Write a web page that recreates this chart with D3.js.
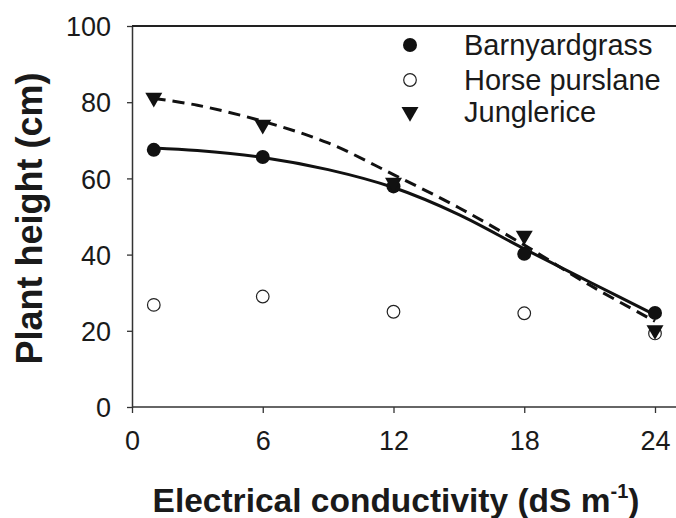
<!DOCTYPE html>
<html>
<head>
<meta charset="utf-8">
<script src="https://cdn.jsdelivr.net/npm/d3@7"></script>
<style>
  body { margin: 0; background: #fff; }
  text { font-family: "Liberation Sans", Arial, sans-serif; }
</style>
</head>
<body>
<div id="chart"></div>
<script>
// measured points
const ec = [1, 6, 12, 18, 24];
const barnyard = [67.5, 65.6, 57.9, 40.2, 24.7];
const purslane = [26.8, 29.0, 25.0, 24.6, 19.3];
const junglerice = [81.2, 74.1, 58.9, 45.0, 20.2];

// fitted curves
const fitX = [1, 3, 6, 9, 12, 15, 18, 21, 24];
const barnyardFit = [68.0, 67.3, 65.5, 62.3, 57.6, 50.5, 41.5, 32.8, 24.2];
const jungleFit = [81.0, 79.2, 75.0, 69.3, 61.0, 52.3, 42.5, 32.0, 22.5];

const xTicks = [0, 6, 12, 18, 24];
const yTicks = [0, 20, 40, 60, 80, 100];
const legendNames = ["Barnyardgrass", "Horse purslane", "Junglerice"];

const W = 676, H = 518;
const margin = { top: 26, right: 0, bottom: 111, left: 132 };
const width = W - margin.left - margin.right;
const height = H - margin.top - margin.bottom;

const svg = d3.select("#chart").append("svg")
  .attr("width", W).attr("height", H);
const g = svg.append("g").attr("transform", `translate(${margin.left},${margin.top})`);

const x = d3.scaleLinear().domain([0, 24]).range([0, 523]);
const y = d3.scaleLinear().domain([0, 100]).range([height, 0]);

// axes
const xAxis = g.append("g").attr("transform", `translate(0,${height})`)
  .call(d3.axisBottom(x).tickValues(xTicks).tickSize(6).tickPadding(14).tickSizeOuter(0));
const yAxis = g.append("g")
  .call(d3.axisLeft(y).tickValues(yTicks).tickSize(5).tickPadding(16).tickSizeOuter(0));
xAxis.select(".domain").attr("d", `M0,0H${width}`);
[xAxis, yAxis].forEach(a => {
  a.select(".domain").attr("stroke", "#333").attr("stroke-width", 1.5);
  a.selectAll(".tick line").attr("stroke", "#333").attr("stroke-width", 1.3);
  a.selectAll(".tick text").attr("fill", "#1a1a1a").style("font-size", "27px");
});
xAxis.selectAll(".tick text").attr("dy", "0.85em");
yAxis.selectAll(".tick text").attr("dy", "0.36em");

// top frame line
g.append("line").attr("x1", 0).attr("x2", width).attr("y1", 0).attr("y2", 0)
  .attr("stroke", "#222").attr("stroke-width", 2);

// axis titles
svg.append("text")
  .attr("transform", `translate(42,${margin.top + height / 2 + 2}) rotate(-90)`)
  .attr("text-anchor", "middle")
  .style("font-size", "36px").style("font-weight", "bold").attr("fill", "#1a1a1a")
  .text("Plant height (cm)");

const xt = svg.append("text")
  .attr("x", 396).attr("y", 512)
  .attr("text-anchor", "middle")
  .style("font-size", "33.5px").style("font-weight", "bold").attr("fill", "#1a1a1a");
xt.append("tspan").text("Electrical conductivity (dS m");
xt.append("tspan").attr("dy", -14).style("font-size", "20px").text("-1");
xt.append("tspan").attr("dy", 14).text(")");

// fitted curves
const line = d3.line().x(d => x(d[0])).y(d => y(d[1])).curve(d3.curveCatmullRom.alpha(0.5));
g.append("path").datum(fitX.map((v, i) => [v, jungleFit[i]]))
  .attr("d", line).attr("fill", "none").attr("stroke", "#111")
  .attr("stroke-width", 3).attr("stroke-dasharray", "12,7");
g.append("path").datum(fitX.map((v, i) => [v, barnyardFit[i]]))
  .attr("d", line).attr("fill", "none").attr("stroke", "#111")
  .attr("stroke-width", 3);

// markers
const tri = d3.symbol().type(d3.symbolTriangle).size(125);
g.selectAll(".pur").data(ec).join("circle")
  .attr("cx", d => x(d)).attr("cy", (d, i) => y(purslane[i])).attr("r", 6.3)
  .attr("fill", "#fff").attr("stroke", "#222").attr("stroke-width", 1.2);
g.selectAll(".bar").data(ec).join("circle")
  .attr("cx", d => x(d)).attr("cy", (d, i) => y(barnyard[i])).attr("r", 7)
  .attr("fill", "#111");
g.selectAll(".jun").data(ec).join("path")
  .attr("d", tri)
  .attr("transform", (d, i) => `translate(${x(d)},${y(junglerice[i])}) rotate(180)`)
  .attr("fill", "#111");

// legend
const legY = [45, 80, 112];
const leg = svg.append("g");
leg.append("circle").attr("cx", 410).attr("cy", legY[0]).attr("r", 7).attr("fill", "#111");
leg.append("circle").attr("cx", 410).attr("cy", legY[1]).attr("r", 6.3)
  .attr("fill", "#fff").attr("stroke", "#222").attr("stroke-width", 1.2);
leg.append("path").attr("d", tri).attr("transform", `translate(410,${legY[2]}) rotate(180)`)
  .attr("fill", "#111");
legendNames.forEach((n, i) => {
  leg.append("text").attr("x", 464).attr("y", legY[i]).attr("dy", "0.36em")
    .style("font-size", "29px").attr("fill", "#1a1a1a").text(n);
});
</script>
</body>
</html>
